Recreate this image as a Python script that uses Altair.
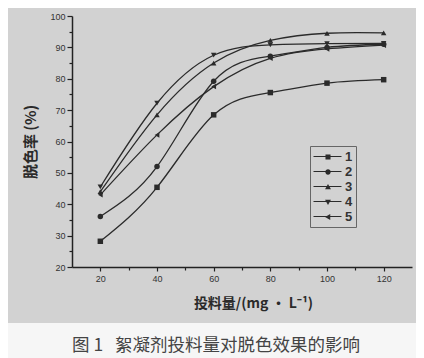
import altair as alt
import pandas as pd

dose = [20, 40, 60, 80, 100, 120]
s1 = [28.2, 45.4, 68.5, 75.6, 78.6, 79.7]
s2 = [36.1, 52.0, 79.2, 87.2, 90.0, 91.0]
s3 = [44.0, 68.5, 85.0, 92.2, 94.5, 94.6]
s4 = [45.5, 72.2, 87.5, 90.8, 91.2, 91.3]
s5 = [43.0, 62.1, 77.5, 86.5, 89.5, 90.7]
series_names = ["1", "2", "3", "4", "5"]
shapes = ["square", "circle", "triangle-up", "triangle-down", "triangle-left"]
caption = "图 1\u00a0\u00a0\u00a0絮凝剂投料量对脱色效果的影响"

x_ticks = [20, 30, 40, 50, 60, 70, 80, 90, 100, 110, 120]
y_ticks = [20, 25, 30, 35, 40, 45, 50, 55, 60, 65, 70, 75, 80, 85, 90, 95, 100]

rows = []
for name, vals in zip(series_names, [s1, s2, s3, s4, s5]):
    for d, v in zip(dose, vals):
        rows.append({"dose": d, "rate": v, "series": name, "label": name, "label2": name})
df = pd.DataFrame(rows)

# legend markers, offset to the middle of a short line (x from -1 to 3)
leg_marks = [
    "M0.64,-0.36H1.36V0.36H0.64Z",
    "M1.38,0A0.38,0.38 0 1,1 0.62,0A0.38,0.38 0 1,1 1.38,0Z",
    "M1,-0.42L1.42,0.32H0.58Z",
    "M1,0.42L1.42,-0.32H0.58Z",
    "M0.58,0L1.32,-0.42V0.42Z",
]
leg_line = ["M-1,0H3"] * 5

ink = "#2b2b2b"

xax = alt.Axis(
    values=x_ticks,
    labelExpr="datum.value % 20 == 0 ? datum.label : ''",
    tickSize={"condition": {"test": "datum.value % 20 != 0", "value": 3}, "value": 4},
    title="投料量/(mg · L⁻¹)",
    titleFont="Noto Sans CJK SC",
    titleFontSize=14,
    titleFontWeight="bold",
    titleColor="#2a2a2a",
    titlePadding=13,
    titleX=181,
    labelFontSize=9,
    labelPadding=3,
    grid=False,
)
yax = alt.Axis(
    values=y_ticks,
    labelExpr="datum.value % 10 == 0 ? datum.label : ''",
    tickSize={"condition": {"test": "datum.value % 10 != 0", "value": 3}, "value": 5},
    title="脱色率 (%)",
    titleFont="Noto Sans CJK SC",
    titleFontSize=15,
    titleFontWeight="bold",
    titleColor="#2a2a2a",
    titlePadding=11,
    labelFontSize=9,
    labelPadding=2,
    grid=False,
)

X = alt.X("dose:Q", scale=alt.Scale(domain=[10, 130], nice=False), axis=xax)
Y = alt.Y("rate:Q", scale=alt.Scale(domain=[20, 100], nice=False), axis=yax)

one = pd.DataFrame({"k": [0]})
band = alt.Chart(one).mark_rect(color="#f6f6f6", clip=False).encode(
    x=alt.value(-64), x2=alt.value(344), y=alt.value(307), y2=alt.value(342)
)
cap = alt.Chart(one).mark_text(
    font="Noto Sans CJK SC", fontSize=17.5, color="#444", align="left", baseline="middle"
).encode(x=alt.value(0), y=alt.value(330), text=alt.value(caption))

lines = alt.Chart(df).mark_line(interpolate="natural", color=ink, strokeWidth=1.3).encode(
    x=X, y=Y, detail="series:N"
)
points = alt.Chart(df).mark_point(filled=True, color=ink, size=30, opacity=1).encode(
    x=X, y=Y,
    shape=alt.Shape("series:N", scale=alt.Scale(domain=series_names, range=shapes), legend=None),
)

common_leg = dict(
    title=None, orient="none", legendX=238, legendY=130, symbolSize=196,
    symbolOpacity=1, labelFontSize=13, labelFont="Liberation Sans",
    labelFontWeight="bold", labelOffset=16, rowPadding=0, padding=3,
)
legend_marks = alt.Chart(df).mark_point(filled=True, color=ink, opacity=0).encode(
    x=X, y=Y,
    shape=alt.Shape(
        "label:N",
        scale=alt.Scale(domain=series_names, range=leg_marks),
        legend=alt.Legend(
            symbolFillColor=ink, labelColor="#333",
            strokeColor="#666", fillColor="transparent", **common_leg
        ),
    ),
)
legend_lines = alt.Chart(df).mark_point(filled=False, color=ink, strokeWidth=1, opacity=0).encode(
    x=X, y=Y,
    shape=alt.Shape(
        "label2:N",
        scale=alt.Scale(domain=series_names, range=leg_line),
        legend=alt.Legend(
            symbolStrokeColor=ink, symbolStrokeWidth=1, labelOpacity=0, **common_leg
        ),
    ),
)

chart = alt.layer(band, cap, lines, points, legend_lines, legend_marks).resolve_scale(
    shape="independent"
).resolve_legend(shape="independent").properties(
    width=340,
    height=251,
    autosize=alt.AutoSizeParams(type="none"),
    padding={"left": 64, "top": 8, "right": 4, "bottom": 91},
).configure(background="#d2d2d2").configure_view(stroke=None).configure_axis(
    domainColor="#222", domainWidth=1.5, tickColor="#222", tickWidth=1.2,
    labelColor="#333", labelFont="Liberation Sans",
)

chart.save("out.html", embed_options={"renderer": "svg", "actions": False})
